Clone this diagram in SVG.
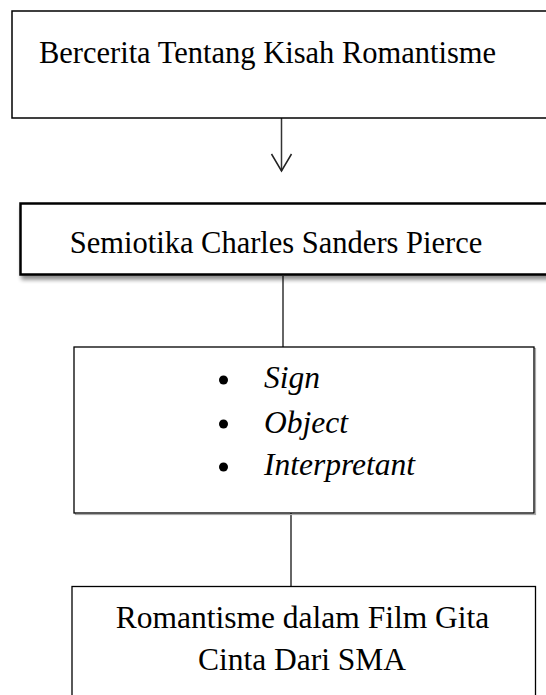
<svg xmlns="http://www.w3.org/2000/svg" width="546" height="695" viewBox="0 0 546 695">
<style>
  .t { font-family: "Liberation Serif", "Times New Roman", serif; fill: #000; }
  .c { text-anchor: middle; }
  .i { font-style: italic; }
  .box { fill: #fff; stroke: #000; }
  .conn { stroke: #333; stroke-width: 1.5; fill: none; }
</style>
<defs>
  <filter id="sh" x="-10%" y="-20%" width="130%" height="160%">
    <feGaussianBlur in="SourceAlpha" stdDeviation="2"/>
    <feOffset dx="2" dy="4" result="b"/>
    <feComponentTransfer><feFuncA type="linear" slope="0.45"/></feComponentTransfer>
    <feMerge><feMergeNode/><feMergeNode in="SourceGraphic"/></feMerge>
  </filter>
  <marker id="arr" markerWidth="24" markerHeight="24" refX="20" refY="12" orient="auto" markerUnits="userSpaceOnUse" viewBox="0 0 24 24">
    <path d="M3 2 L20 12 L3 22" fill="none" stroke="#222" stroke-width="1.5"/>
  </marker>
</defs>

<g id="connectors">
  <line class="conn" x1="281.5" y1="118" x2="281.5" y2="171" marker-end="url(#arr)"/>
  <line class="conn" x1="283" y1="276" x2="283" y2="347"/>
  <line class="conn" x1="291" y1="513" x2="291" y2="586"/>
</g>

<g id="node1">
  <rect class="box" x="12" y="11" width="540" height="107" stroke="#333" stroke-width="1.5"/>
  <text class="t c" x="267.5" y="63" font-size="30.5">Bercerita Tentang Kisah Romantisme</text>
</g>

<g id="node2">
  <rect class="box" x="20.5" y="203.5" width="540" height="71" stroke-width="2.5" filter="url(#sh)"/>
  <text class="t c" x="276" y="252.7" font-size="30.5">Semiotika Charles Sanders Pierce</text>
</g>

<g id="node3">
  <rect x="75.5" y="348.5" width="460" height="166" fill="none" stroke="#aaa" stroke-width="1.2"/>
  <rect class="box" x="74" y="347" width="460" height="166" stroke-width="1.3"/>
  <circle cx="223.5" cy="380" r="4.5" fill="#000"/>
  <circle cx="223.5" cy="424" r="4.5" fill="#000"/>
  <circle cx="223.5" cy="467" r="4.5" fill="#000"/>
  <text class="t i" x="264" y="388" font-size="31.5">Sign</text>
  <text class="t i" x="264" y="432.7" font-size="31.5">Object</text>
  <text class="t i" x="264" y="475" font-size="31.5">Interpretant</text>
</g>

<g id="node4">
  <rect class="box" x="72" y="586.5" width="463.5" height="130" stroke="#333" stroke-width="1.3"/>
  <text class="t c" x="302.5" y="628" font-size="31.5">Romantisme dalam Film Gita</text>
  <text class="t c" x="302" y="670" font-size="31.5">Cinta Dari SMA</text>
</g>
</svg>
